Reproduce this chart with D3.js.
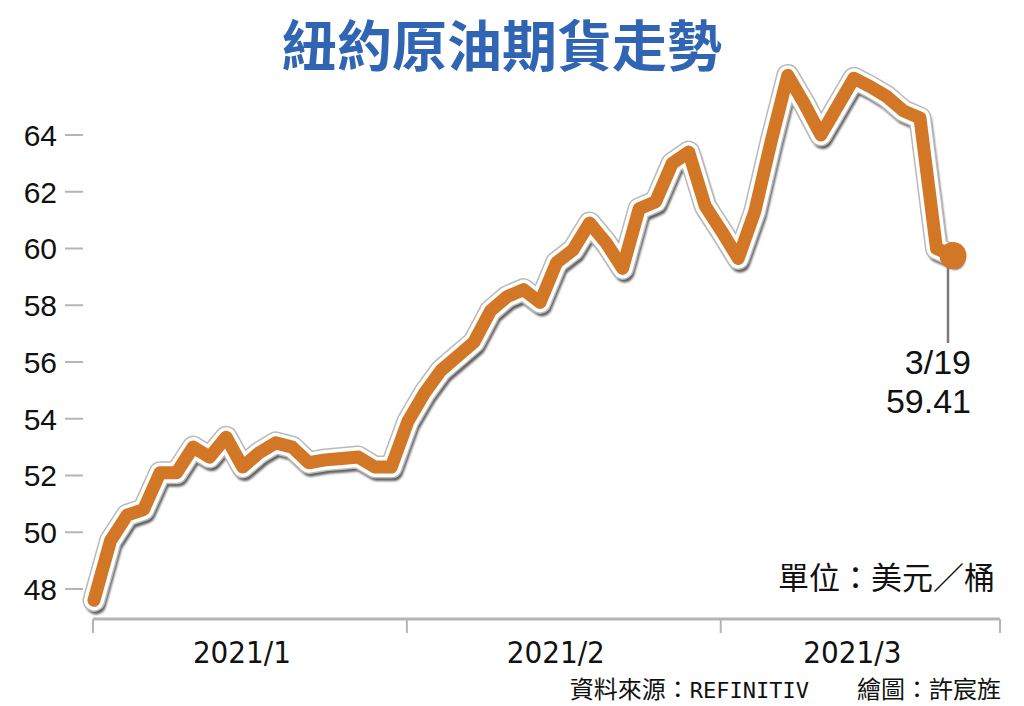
<!DOCTYPE html>
<html>
<head>
<meta charset="utf-8">
<script src="https://cdn.jsdelivr.net/npm/d3@7"></script>
<style>
  body { margin: 0; background: #fff; }
  svg { display: block; }
</style>
</head>
<body>
<div id="chart"></div>
<script>
// trading days, 2021/1/4 - 2021/3/19
const tradeDates = [
  '1/4','1/5','1/6','1/7','1/8','1/11','1/12','1/13','1/14','1/15',
  '1/19','1/20','1/21','1/22','1/25','1/26','1/27','1/28','1/29',
  '2/1','2/2','2/3','2/4','2/5','2/8','2/9','2/10','2/11','2/12',
  '2/16','2/17','2/18','2/19','2/22','2/23','2/24','2/25','2/26',
  '3/1','3/2','3/3','3/4','3/5','3/8','3/9','3/10','3/11','3/12',
  '3/15','3/16','3/17','3/18','3/19'
];
// price, USD per barrel
const prices = [
  47.6, 49.7, 50.6, 50.8, 52.1, 52.1, 53.0, 52.65, 53.35, 52.3,
  52.8, 53.15, 53.0, 52.45, 52.55, 52.6, 52.65, 52.3, 52.3,
  53.9, 54.9, 55.7, 56.2, 56.7, 57.8, 58.3, 58.55, 58.1, 59.5,
  59.95, 60.9, 60.2, 59.3, 61.4, 61.65, 63.0, 63.4, 61.5,
  60.6, 59.65, 61.3, 63.8, 66.1, 65.1, 64.0, 65.0, 66.0, 65.7,
  65.35, 64.85, 64.6, 60.0, 59.75
];
const yTicks = [48, 50, 52, 54, 56, 58, 60, 62, 64];
const monthStarts = ['1/4', '2/1', '3/1'];
const monthLabels = ['2021/1', '2021/2', '2021/3'];
const lastLabel = ['3/19', '59.41'];

const titleText = '紐約原油期貨走勢';
const unitText = '單位：美元／桶';

class OilChart {
  constructor(_config) {
    this.config = {
      parentElement: _config.parentElement,
      width: _config.width || 1024,
      height: _config.height || 706
    };
    this.initVis();
  }

  initVis() {
    let vis = this;

    vis.svg = d3.select(vis.config.parentElement).append('svg')
      .attr('width', vis.config.width)
      .attr('height', vis.config.height);

    vis.svg.append('defs').append('filter')
      .attr('id', 'soft')
      .attr('x', '-5%').attr('y', '-5%').attr('width', '110%').attr('height', '110%')
      .append('feGaussianBlur')
      .attr('stdDeviation', 1.3);

    vis.x = d3.scalePoint().domain(tradeDates).range([94, 953]);
    vis.y = d3.scaleLinear().domain([48, 64]).range([589, 135]);

    vis.axisY = 619;
    vis.axisRight = 1000;
  }

  renderVis() {
    let vis = this;

    // title
    vis.svg.append('text')
      .attr('x', 502).attr('y', 66)
      .attr('text-anchor', 'middle')
      .attr('font-family', '"Noto Sans CJK TC", sans-serif')
      .attr('font-weight', 700)
      .attr('font-size', 55)
      .attr('fill', '#3065b3')
      .text(titleText);

    // y ticks (marks only, no axis line)
    const yg = vis.svg.append('g').attr('class', 'y-axis');
    yg.selectAll('line').data(yTicks).join('line')
      .attr('x1', 65).attr('x2', 83)
      .attr('y1', d => vis.y(d)).attr('y2', d => vis.y(d))
      .attr('stroke', '#b5b5b5').attr('stroke-width', 2);
    yg.selectAll('text').data(yTicks).join('text')
      .attr('x', 57).attr('y', d => vis.y(d))
      .attr('dy', '0.36em')
      .attr('text-anchor', 'end')
      .attr('font-family', '"Liberation Sans", Arial, sans-serif')
      .attr('font-size', 30)
      .attr('fill', '#111')
      .text(d => d);

    // x axis
    const tickX = monthStarts.map(d => vis.x(d) - 1).concat([vis.axisRight]);
    const xg = vis.svg.append('g').attr('class', 'x-axis');
    xg.append('line')
      .attr('x1', tickX[0]).attr('x2', vis.axisRight)
      .attr('y1', vis.axisY).attr('y2', vis.axisY)
      .attr('stroke', '#b5b5b5').attr('stroke-width', 3);
    xg.selectAll('.tick').data(tickX).join('line')
      .attr('class', 'tick')
      .attr('x1', d => d).attr('x2', d => d)
      .attr('y1', vis.axisY).attr('y2', vis.axisY + 14)
      .attr('stroke', '#b5b5b5').attr('stroke-width', 2);
    xg.selectAll('text').data(monthLabels).join('text')
      .attr('x', (d, i) => (tickX[i] + tickX[i + 1]) / 2 - 8)
      .attr('y', 663)
      .attr('text-anchor', 'middle')
      .attr('font-family', '"Liberation Sans Narrow", "DejaVu Sans Condensed", "Liberation Sans", sans-serif')
      .attr('font-size', 31)
      .attr('fill', '#111')
      .text(d => d);

    // the line: shadow, grey rim, white halo, orange
    const line = d3.line()
      .x((d, i) => vis.x(tradeDates[i]))
      .y(d => vis.y(d));

    vis.svg.append('path')
      .datum(prices)
      .attr('d', line)
      .attr('transform', 'translate(2,4)')
      .attr('fill', 'none')
      .attr('stroke', '#5e5e5e')
      .attr('stroke-width', 20)
      .attr('stroke-linejoin', 'round')
      .attr('stroke-linecap', 'round')
      .attr('filter', 'url(#soft)');
    vis.svg.append('path')
      .datum(prices)
      .attr('d', line)
      .attr('fill', 'none')
      .attr('stroke', '#b9b9b9')
      .attr('stroke-width', 23)
      .attr('stroke-linejoin', 'round')
      .attr('stroke-linecap', 'round');
    vis.svg.append('path')
      .datum(prices)
      .attr('d', line)
      .attr('fill', 'none')
      .attr('stroke', '#fff')
      .attr('stroke-width', 20)
      .attr('stroke-linejoin', 'round')
      .attr('stroke-linecap', 'round');
    vis.svg.append('path')
      .datum(prices)
      .attr('d', line)
      .attr('fill', 'none')
      .attr('stroke', '#d27726')
      .attr('stroke-width', 13)
      .attr('stroke-linejoin', 'round')
      .attr('stroke-linecap', 'round');

    // last point + callout
    const lastX = vis.x(tradeDates[tradeDates.length - 1]);
    const lastY = vis.y(prices[prices.length - 1]);
    vis.svg.append('line')
      .attr('x1', lastX - 5).attr('x2', lastX - 5)
      .attr('y1', lastY).attr('y2', 343)
      .attr('stroke', '#7a7a7a').attr('stroke-width', 2.5);
    vis.svg.append('circle')
      .attr('cx', lastX).attr('cy', lastY)
      .attr('r', 13.5)
      .attr('fill', '#d27726');
    vis.svg.append('g').selectAll('text').data(lastLabel).join('text')
      .attr('x', 971)
      .attr('y', (d, i) => 374 + i * 39)
      .attr('text-anchor', 'end')
      .attr('font-family', '"Liberation Sans", Arial, sans-serif')
      .attr('font-size', 34)
      .attr('fill', '#111')
      .text(d => d);

    // unit + source
    vis.svg.append('text')
      .attr('x', 995).attr('y', 589)
      .attr('text-anchor', 'end')
      .attr('font-family', '"Noto Sans CJK TC", sans-serif')
      .attr('font-size', 31)
      .attr('fill', '#111')
      .text(unitText);

    const src = vis.svg.append('text')
      .attr('x', 1001).attr('y', 698)
      .attr('text-anchor', 'end')
      .attr('font-family', '"Noto Sans CJK TC", sans-serif')
      .attr('font-size', 24)
      .attr('fill', '#111');
    src.append('tspan').text('資料來源：');
    src.append('tspan')
      .attr('font-family', '"DejaVu Sans Mono", monospace')
      .attr('font-size', 22)
      .text('REFINITIV');
    src.append('tspan').text('\u3000\u3000繪圖：許宸旌');
  }
}

const chart = new OilChart({ parentElement: '#chart' });
chart.renderVis();
</script>
</body>
</html>
